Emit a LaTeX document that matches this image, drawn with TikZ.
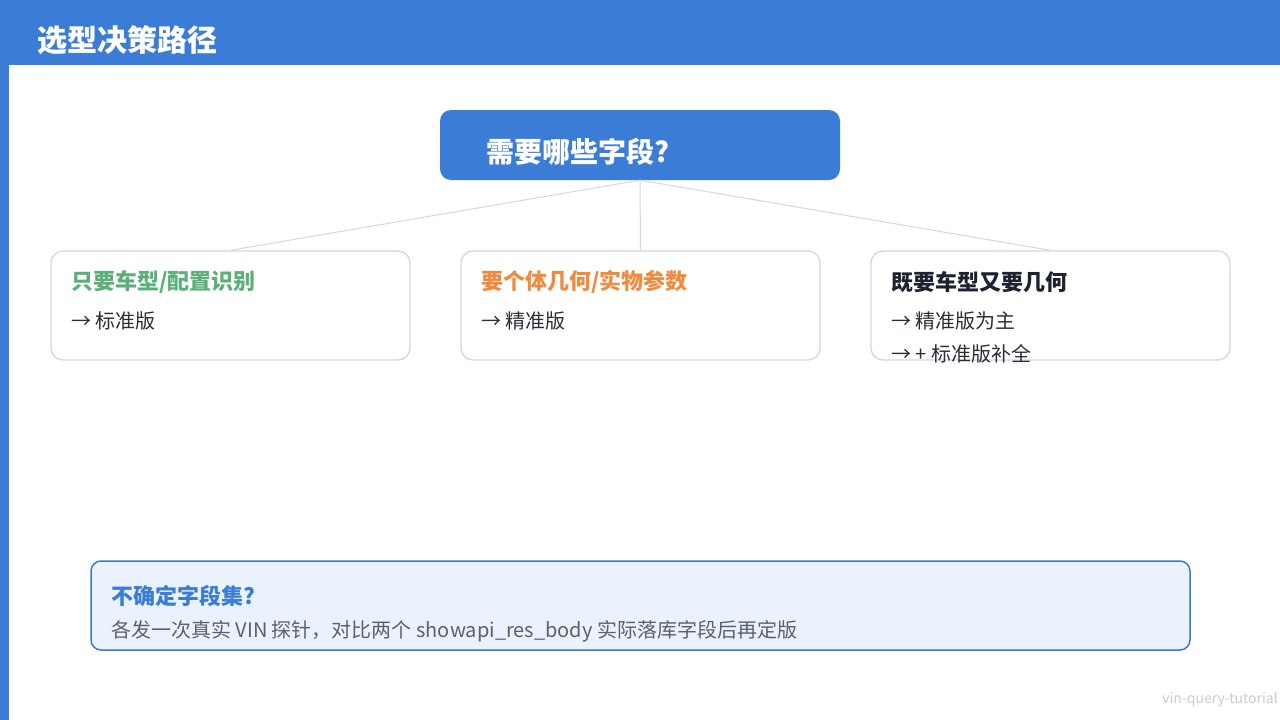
\documentclass[tikz,border=0pt]{standalone}
\usepackage{fontspec}
\setmainfont{Noto Sans CJK SC}
\definecolor{hdrblue}{HTML}{3B7DD6}
\definecolor{linegray}{HTML}{D3D7E0}
\definecolor{boxgray}{HTML}{D3D7E0}
\definecolor{tgreen}{HTML}{5BAF7A}
\definecolor{torange}{HTML}{F08A3E}
\definecolor{tdark}{HTML}{1E2230}
\definecolor{bodydark}{HTML}{2A2E38}
\definecolor{notefill}{HTML}{EAF2FD}
\definecolor{noteborder}{HTML}{3E78C8}
\definecolor{notebody}{HTML}{5A6070}
\definecolor{wmgray}{HTML}{C8CBD0}
\tikzset{
  card/.style={draw=boxgray, line width=1.3pt, rounded corners=12pt, fill=white, minimum width=359pt, minimum height=109pt, inner sep=0pt},
  cardtitle/.style={anchor=west, inner sep=0pt, font=\fontsize{22}{26}\selectfont\bfseries},
  cardbody/.style={anchor=west, inner sep=0pt, text=bodydark, font=\fontsize{20}{24}\selectfont},
  conn/.style={draw=linegray, line width=1pt},
}
\begin{document}
\begin{tikzpicture}[x=1pt,y=-1pt]
\useasboundingbox (0,0) rectangle (1280,720);
\fill[white] (0,0) rectangle (1280,720);
% header and left strip
\fill[hdrblue] (0,0) rectangle (1280,65);
\fill[hdrblue] (0,65) rectangle (9,720);
\node[anchor=west, inner sep=0pt, text=white, font=\fontsize{30}{34}\selectfont\bfseries] (title) at (37,40) {选型决策路径};
% top question node
\node[fill=hdrblue, rounded corners=11pt, minimum width=400pt, minimum height=70pt, inner sep=0pt] (q) at (640,145) {};
\node[anchor=west, inner sep=0pt, text=white, font=\fontsize{28}{32}\selectfont\bfseries] (qt) at (486,152) {需要哪些字段?};
% cards
\node[card] (b1) at (230.5,305.5) {};
\node[card] (b2) at (640.5,305.5) {};
\node[card] (b3) at (1050.5,305.5) {};
% connectors
\draw[conn] (q.south) -- (b1.north);
\draw[conn] (q.south) -- (b2.north);
\draw[conn] (q.south) -- (b3.north);
% card texts
\node[cardtitle, text=tgreen] (t1) at (71,282) {只要车型/配置识别};
\node[cardbody] (l1) at (71,321) {→ 标准版};
\node[cardtitle, text=torange] (t2) at (481,282) {要个体几何/实物参数};
\node[cardbody] (l2) at (481,321) {→ 精准版};
\node[cardtitle, text=tdark] (t3) at (891,282) {既要车型又要几何};
\node[cardbody] (l3a) at (891,321) {→ 精准版为主};
\node[cardbody] (l3b) at (891,354) {→ + 标准版补全};
% bottom note
\node[draw=noteborder, line width=1.5pt, fill=notefill, rounded corners=10pt, minimum width=1099pt, minimum height=89pt, inner sep=0pt] (note) at (640.5,605.5) {};
\node[anchor=west, inner sep=0pt, text=hdrblue, font=\fontsize{22}{26}\selectfont\bfseries] (nt) at (111,596) {不确定字段集?};
\node[anchor=west, inner sep=0pt, text=notebody, font=\fontsize{20}{24}\selectfont] (nb) at (111,631) {各发一次真实 VIN 探针，对比两个 showapi\_res\_body 实际落库字段后再定版};
% watermark
\node[anchor=east, inner sep=0pt, text=wmgray, font=\fontsize{14}{16}\selectfont] (wm) at (1278,700) {vin-query-tutorial};
\end{tikzpicture}
\end{document}
